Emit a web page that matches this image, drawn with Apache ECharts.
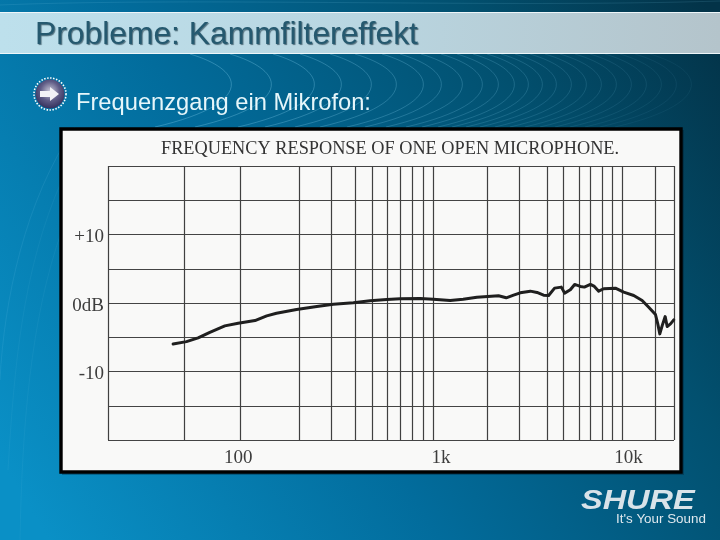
<!DOCTYPE html>
<html><head><meta charset="utf-8">
<style>html,body{margin:0;padding:0;background:#035a85}#c{width:720px;height:540px}</style>
<script src="https://cdn.jsdelivr.net/npm/echarts@6/dist/echarts.min.js"></script>
</head><body><div id="c"></div>
<script>
const slideTitle = 'Probleme: Kammfiltereffekt';
const bulletText = 'Frequenzgang ein Mikrofon:';
const chartTitle = 'FREQUENCY RESPONSE OF ONE OPEN MICROPHONE.';
const brand = 'SHURE';
const slogan = "It's Your Sound";
const xMin = 20;
const xMax = 18600;
const yMin = -20;
const yMax = 20;
const gridFreqs = [20,50.4,98.7,202,298,397,485,584,678,784,902,1018,1943,2861,4027,4871,5933,6800,7863,8875,10014,14870,18600];
const xTickLabels = {100:'100',1000:'1k',10000:'10k'};
const yTickLabels = {10:'+10',0:'0dB','-10':'-10'};
const curveFreq = [43.9,51.6,59.4,68.4,82,96.3,118,136,153,195,249,304,387,474,580,681,867,1015,1246,1458,1721,2235,2453,2680,2905,3280,3556,3851,4092,4398,4771,4965,5318,5603,6003,6301,6775,7111,7490,7956,9166,10134,11440,12660,13710,14870,15290,15670,16130,16720,17130,17830,18550];
const curveDb = [-5.98,-5.64,-5.10,-4.28,-3.34,-2.96,-2.56,-1.88,-1.49,-0.95,-0.51,-0.18,0.03,0.32,0.51,0.62,0.66,0.56,0.37,0.56,0.85,1.05,0.76,1.14,1.49,1.73,1.54,1.14,1.10,2.17,2.32,1.44,1.93,2.71,2.42,2.32,2.71,2.42,1.73,2.08,2.17,1.58,1.10,0.37,-0.62,-1.68,-3.05,-4.51,-3.30,-1.98,-3.44,-3.05,-2.46];
const swirlApex = [235,275,318,345,375,400,427,445,466,486,502,518,532,546,560,575,590,605,620,635,650,665,680,695];

const chart = echarts.init(document.getElementById('c'), null, {renderer:'canvas'});
const lg = (x,y,x2,y2,stops)=>new echarts.graphic.LinearGradient(x,y,x2,y2,stops.map(c=>({offset:c[0],color:c[1]})));
const swirl = (x1,y1,cx1,cy1,cx2,cy2,x2,y2,o)=>({type:'bezierCurve',z:-9,shape:{x1,y1,cpx1:cx1,cpy1:cy1,cpx2:cx2,cpy2:cy2,x2,y2},style:{fill:'none',stroke:'rgba(130,205,235,'+o+')',lineWidth:1}});
const sans = '"Liberation Sans", Arial, sans-serif';
const serif = '"Liberation Serif", "Times New Roman", serif';
const swirls = swirlApex.map((a,i)=>swirl(a-45,54,a+15,72,a+15,105,a-80,127,(0.34-i*0.012).toFixed(3)));

chart.setOption({
  animation:false,
  title:{text:chartTitle,left:161,top:140,padding:0,textStyle:{fontFamily:serif,fontSize:18.3,fontWeight:'normal',color:'#333333'}},
  grid:{left:108,right:46,top:166,bottom:100,containLabel:false},
  xAxis:{type:'log',logBase:10,min:xMin,max:xMax,
    axisLine:{show:false},axisTick:{show:false},splitLine:{show:false},minorSplitLine:{show:false},
    axisLabel:{show:true,margin:9,showMinLabel:false,showMaxLabel:false,
      formatter:v=>{const k=xTickLabels[Math.round(v)];if(!k)return '';
        return v<500?'{a|'+k+'}':(v<5000?'{b|'+k+'}':'{c|'+k+'}');},
      rich:{a:{fontFamily:serif,fontSize:19,color:'#3d3d3d',padding:[0,6,0,0]},
            b:{fontFamily:serif,fontSize:19,color:'#3d3d3d',padding:[0,0,0,18]},
            c:{fontFamily:serif,fontSize:19,color:'#3d3d3d',padding:[0,0,0,12]}}}},
  yAxis:{type:'value',min:yMin,max:yMax,interval:5,
    axisLine:{show:false},axisTick:{show:false},
    splitLine:{show:true,lineStyle:{color:'#444444',width:1.2}},
    axisLabel:{margin:4,
      formatter:v=>yTickLabels[v]?'{a|'+yTickLabels[v]+'}':'',
      rich:{a:{fontFamily:serif,fontSize:19,color:'#3d3d3d',padding:[6,0,0,0]}}}},
  series:[{type:'line',name:'Frequency response',
    data:curveFreq.map((f,i)=>[f,curveDb[i]]),
    showSymbol:false,symbol:'none',smooth:false,z:5,
    lineStyle:{color:'#1f1f1f',width:3,cap:'round',join:'round'},
    markLine:{silent:true,symbol:'none',animation:false,label:{show:false},
      lineStyle:{color:'#404040',width:1.2,type:'solid'},
      data:gridFreqs.map(f=>({xAxis:f}))}}],
  graphic:{elements:[
    {type:'rect',z:-10,shape:{x:0,y:0,width:720,height:540},
      style:{fill:lg(0,0.85,1,0.05,[[0,'#0a90c6'],[0.4,'#026c9c'],[0.75,'#02506f'],[1,'#033348']])}},
    swirl(20,540,22,430,30,320,62,230,0.08),
    swirl(8,470,14,370,22,270,62,180,0.08),
    swirl(0,380,4,300,25,200,75,127,0.12),
    swirl(0,5,200,-3,500,8,720,1,0.14),
    ...swirls,
    {type:'rect',z:-8,shape:{x:0,y:12,width:720,height:41},
      style:{fill:lg(0,0,1,0,[[0,'#bde0ec'],[0.5,'#b9d6e1'],[1,'#b4c4cb']])}},
    {type:'rect',z:-7,shape:{x:0,y:12,width:720,height:1},style:{fill:'#eef6f9'}},
    {type:'rect',z:-7,shape:{x:0,y:53,width:720,height:1},style:{fill:'#eef6f9'}},
    {type:'text',z:-6,x:35,y:19,style:{text:slideTitle,fontFamily:sans,fontSize:31.8,fill:'#25596f',
      textShadowColor:'rgba(10,40,55,0.6)',textShadowBlur:1,textShadowOffsetX:1,textShadowOffsetY:1}},
    {type:'circle',z:-6,shape:{cx:50,cy:94,r:16},style:{fill:'none',stroke:'#ffffff',lineWidth:1.6,lineDash:[1.5,1.5]}},
    {type:'circle',z:-6,shape:{cx:50,cy:94,r:14.5},
      style:{fill:new echarts.graphic.RadialGradient(0.5,0.4,0.6,[{offset:0,color:'#c9c8d8'},{offset:0.55,color:'#5f5c86'},{offset:1,color:'#34315e'}])}},
    {type:'polygon',z:-6,shape:{points:[[40,91],[50,91],[50,87],[59,94],[50,101],[50,97],[40,97]]},style:{fill:'#f2f2f6'}},
    {type:'text',z:-6,x:76,y:91,style:{text:bulletText,fontFamily:sans,fontSize:23.7,fill:'#e6f6fa'}},
    {type:'rect',z:-5,shape:{x:62,y:130,width:622,height:345},style:{fill:'rgba(0,20,35,0.3)'}},
    {type:'rect',z:-4,shape:{x:61,y:129,width:620,height:343},style:{fill:'#f9f9f8',stroke:'#000',lineWidth:3.4}},
    {type:'text',z:-3,x:581,y:487,scaleX:1.16,style:{text:brand,fontFamily:sans,fontSize:28,fontWeight:'bold',fontStyle:'italic',fill:'#d9e3e9'}},
    {type:'text',z:-3,x:616,y:513,style:{text:slogan,fontFamily:sans,fontSize:13.4,fill:'#dfe8ee'}}
  ]}
});
</script></body></html>
